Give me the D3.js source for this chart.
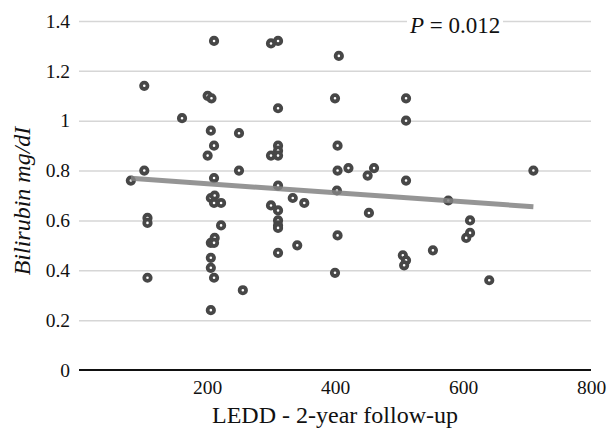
<!DOCTYPE html>
<html>
<head>
<meta charset="utf-8">
<script src="https://cdn.jsdelivr.net/npm/d3@7"></script>
<style>
  body { margin: 0; background: #fff; }
  svg text { font-family: "Liberation Serif", "Times New Roman", serif; fill: #111; }
</style>
</head>
<body>
<script>
// LEDD at 2-year follow-up vs bilirubin
var ledd = [81, 102, 102, 107, 107, 107, 161, 201, 207, 211, 206, 211, 201, 211,
            206, 212, 211, 222, 222, 212, 206, 211, 206, 206, 211, 206, 250, 250,
            256, 300, 311, 311, 311, 311, 300, 311, 311, 300, 311, 311, 311, 311,
            311, 334, 352, 341, 400, 406, 404, 404, 421, 403, 404, 400, 451, 461,
            453, 511, 511, 511, 506, 511, 508, 553, 577, 611, 611, 605, 641, 710];
var bilirubin = [0.76, 1.14, 0.80, 0.61, 0.59, 0.37, 1.01, 1.10, 1.09, 1.32, 0.96, 0.90, 0.86, 0.77,
                 0.69, 0.70, 0.67, 0.67, 0.58, 0.53, 0.51, 0.51, 0.45, 0.41, 0.37, 0.24, 0.95, 0.80,
                 0.32, 1.31, 1.32, 1.05, 0.90, 0.88, 0.86, 0.86, 0.74, 0.66, 0.64, 0.60, 0.58, 0.57,
                 0.47, 0.69, 0.67, 0.50, 1.09, 1.26, 0.90, 0.80, 0.81, 0.72, 0.54, 0.39, 0.78, 0.81,
                 0.63, 1.09, 1.00, 0.76, 0.46, 0.44, 0.42, 0.48, 0.68, 0.60, 0.55, 0.53, 0.36, 0.80];

// trendline ends
var trendX = [81, 710];
var trendY = [0.769, 0.655];

var xTicks = [200, 400, 600, 800];
var yTicks = [0, 0.2, 0.4, 0.6, 0.8, 1, 1.2, 1.4];
var pLabel = "0.012";

const w = 616;
const h = 429;
const serif = "'Liberation Serif', 'Times New Roman', serif";

const x = d3.scaleLinear().domain([0, 800]).range([79, 591]);
const y = d3.scaleLinear().domain([0, 1.4]).range([370, 21]);

const svg = d3.select("body")
    .append("svg")
    .attr("width", w)
    .attr("height", h);

// gridlines (not at 0, that one is the axis)
svg.append("g")
    .attr("transform", "translate(79,0)")
    .call(d3.axisLeft(y).tickValues(yTicks.filter(d => d > 0)).tickSize(-(591 - 79)).tickFormat(""))
    .call(g => g.select(".domain").remove())
    .call(g => g.selectAll("line").attr("stroke", "#d6d6d6").attr("stroke-width", 1.5));

// y tick labels
svg.append("g")
    .attr("transform", "translate(79,0)")
    .call(d3.axisLeft(y).tickValues(yTicks).tickSize(0).tickPadding(9).tickFormat(d => String(+d.toFixed(1))))
    .attr("font-family", serif)
    .call(g => g.select(".domain").remove())
    .call(g => g.selectAll("text")
        .style("font-family", serif)
        .style("font-size", "19.5px")
        .style("fill", "#111"));

// x axis, baseline at 0
svg.append("g")
    .attr("transform", "translate(0," + y(0) + ")")
    .call(d3.axisBottom(x).tickValues(xTicks).tickSize(0).tickPadding(10))
    .attr("font-family", serif)
    .call(g => g.select(".domain").attr("stroke", "#111").attr("stroke-width", 2.2).attr("d", "M79,0H591"))
    .call(g => g.selectAll("text")
        .style("font-family", serif)
        .style("font-size", "19.5px")
        .style("fill", "#111"));

// points
svg.append("g")
    .selectAll("circle")
    .data(ledd)
    .enter()
    .append("circle")
    .attr("cx", d => x(d))
    .attr("cy", (d, i) => y(bilirubin[i]))
    .attr("r", 3.2)
    .attr("fill", "#fff")
    .attr("stroke", "#474747")
    .attr("stroke-width", 3.8);

// linear trendline
svg.append("path")
    .datum(trendX.map((d, i) => [d, trendY[i]]))
    .attr("d", d3.line().x(d => x(d[0])).y(d => y(d[1])))
    .attr("fill", "none")
    .attr("stroke", "#838383")
    .attr("stroke-width", 5)
    .attr("opacity", 0.85);

// P value with white box over the top gridline
svg.append("rect")
    .attr("x", 407)
    .attr("y", 12)
    .attr("width", 96)
    .attr("height", 26)
    .attr("fill", "#fff");

var pText = svg.append("text")
    .attr("x", 410)
    .attr("y", 33)
    .style("font-size", "23px");
pText.append("tspan").attr("font-style", "italic").text("P");
pText.append("tspan").text(" = " + pLabel);

// axis titles
svg.append("text")
    .attr("x", 335)
    .attr("y", 423)
    .attr("text-anchor", "middle")
    .style("font-size", "24px")
    .text("LEDD - 2-year follow-up");

svg.append("text")
    .attr("transform", "translate(30,201) rotate(-90)")
    .attr("text-anchor", "middle")
    .style("font-size", "24px")
    .attr("font-style", "italic")
    .text("Bilirubin mg/dI");
</script>
</body>
</html>
